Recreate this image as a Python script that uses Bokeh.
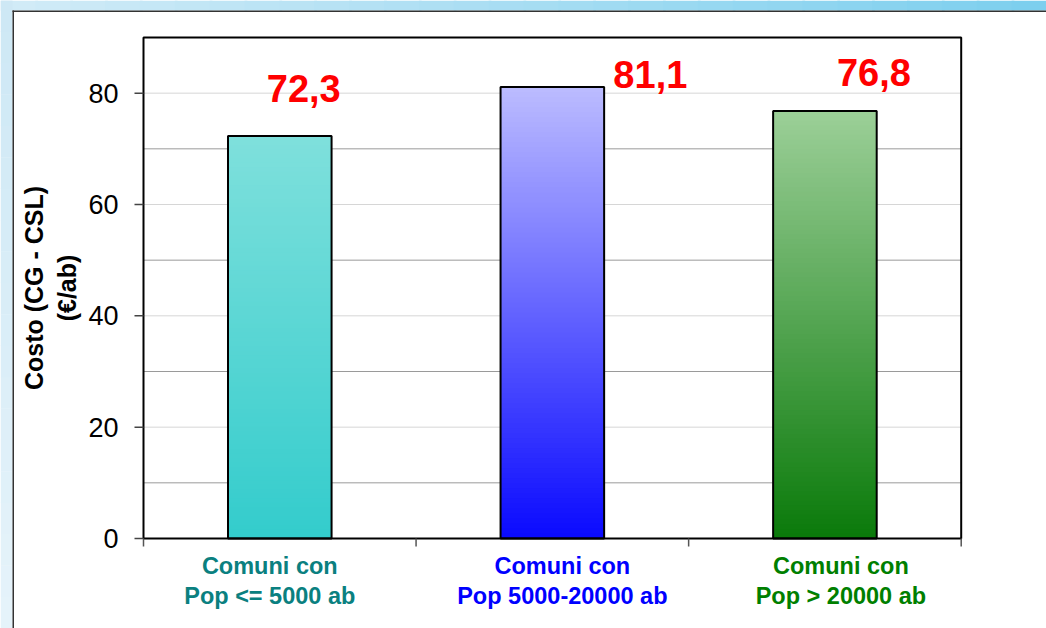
import math
from bokeh.plotting import figure
from bokeh.models import Range1d, ColumnDataSource, LabelSet, Label
from bokeh.core.properties import value
from bokeh.embed import file_html
from bokeh.resources import INLINE

# ---------------- data ----------------
categories = ["Comuni con\nPop <= 5000 ab",
              "Comuni con\nPop 5000-20000 ab",
              "Comuni con\nPop > 20000 ab"]
values = [72.3, 81.1, 76.8]
value_labels = ["72,3", "81,1", "76,8"]
y_ticks = [0, 20, 40, 60, 80]
y_tick_labels = ["0", "20", "40", "60", "80"]
y_grid_dark = [10, 30, 50, 70]
y_grid_light = [20, 40, 60, 80]
y_max = 90
y_label = "Costo (CG - CSL)\n(€/ab)"

# ---------------- layout / styles ----------------
FONT = "Liberation Sans"
W, H = 1046, 628
PLOT_L, PLOT_R, PLOT_T, PLOT_B = 143, 960.7, 37, 538
STRIP_TOP, STRIP_LEFT = 10, 12
cat_colors = ["#0a8080", "#0000ff", "#007f00"]
bar_top_colors = ["#7fe0dc", "#bcbcff", "#9ccf98"]
bar_bottom_colors = ["#33cccc", "#0a0aff", "#0a7a0a"]
value_dx = [24, 98, 49]
value_dy = [48, 13, 38]
cat_dx = [-10, 10, 16]
BAR_W = 0.38

ncat = len(categories)
xpos = [i + 0.5 for i in range(ncat)]          # category slot centres
bounds = list(range(ncat + 1))                  # category slot boundaries
cat_line1 = [c.split("\n")[0] for c in categories]
cat_line2 = [c.split("\n")[1] for c in categories]
ylab1, ylab2 = y_label.split("\n")

ppx = (PLOT_R - PLOT_L) / ncat
ppy = (PLOT_B - PLOT_T) / y_max
x0r, x1r = -PLOT_L / ppx, ncat + (W - PLOT_R) / ppx
y0r, y1r = -(H - PLOT_B) / ppy, y_max + PLOT_T / ppy


def hex2rgb(h):
    h = h.lstrip("#")
    return tuple(int(h[i:i + 2], 16) for i in (0, 2, 4))


def mix(c1, c2, t):
    a, b = hex2rgb(c1), hex2rgb(c2)
    return "#%02x%02x%02x" % tuple(int(round(a[i] + (b[i] - a[i]) * t)) for i in range(3))


p = figure(width=W, height=H,
           x_range=Range1d(x0r, x1r), y_range=Range1d(y0r, y1r),
           x_axis_location=None, y_axis_location=None,
           output_backend="svg", toolbar_location=None, min_border=0)
p.grid.visible = False
p.outline_line_color = None
p.border_fill_color = "white"
p.background_fill_color = "white"

# ---- outer decorative background (slide frame) ----
steps = 30
sx = [(x0r + (x1r - x0r) * i / steps) for i in range(steps + 1)]
p.quad(left=sx[:-1], right=[s + 0.01 for s in sx[1:]],
       bottom=y1r - STRIP_TOP / ppy, top=y1r,
       fill_color=[mix("#d2ebf7", "#7ccfee", (i + 0.5) / steps) for i in range(steps)],
       line_color=None)
vsteps = 20
sy = [(y0r + (y1r - y0r) * i / vsteps) for i in range(vsteps + 1)]
p.quad(left=x0r, right=x0r + STRIP_LEFT / ppx, bottom=sy[:-1],
       top=[s + 0.05 for s in sy[1:]],
       fill_color=[mix("#e6f3fa", "#cde8f5", (i + 0.5) / vsteps) for i in range(vsteps)],
       line_color=None)
p.segment(x0=x0r + (STRIP_LEFT + 0.75) / ppx, x1=x0r + (STRIP_LEFT + 0.75) / ppx,
          y0=y0r, y1=y1r - STRIP_TOP / ppy,
          line_color="#333333", line_width=1.5)
p.segment(x0=x0r + STRIP_LEFT / ppx, x1=x1r,
          y0=y1r - (STRIP_TOP + 0.75) / ppy, y1=y1r - (STRIP_TOP + 0.75) / ppy,
          line_color="#333333", line_width=1.5)

# ---- grid lines ----
p.segment(x0=0, x1=ncat, y0=y_grid_dark, y1=y_grid_dark,
          line_color="#9a9a9a", line_width=1)
p.segment(x0=0, x1=ncat, y0=y_grid_light, y1=y_grid_light,
          line_color="#d6d6d6", line_width=1)

# ---- gradient bars: nested slices from full height down ----
N = 90
xs, tops, cols = [], [], []
for x, v, ct, cb in zip(xpos, values, bar_top_colors, bar_bottom_colors):
    for k in range(N, 0, -1):
        t = (k - 0.5) / N
        xs.append(x)
        tops.append(v * k / N)
        cols.append(mix(cb, ct, t))
p.vbar(x=xs, top=tops, bottom=0, width=BAR_W, fill_color=cols, line_color=None)
p.vbar(x=xpos, top=values, bottom=0, width=BAR_W, fill_color=None,
       line_color="black", line_width=2)

# ---- plot box, ticks ----
p.quad(left=0, right=ncat, bottom=0, top=y_max, fill_color=None,
       line_color="black", line_width=2)
p.segment(x0=-9 / ppx, x1=0, y0=y_ticks, y1=y_ticks,
          line_color="#444444", line_width=1.5)
p.segment(x0=bounds, x1=bounds, y0=0, y1=-8 / ppy,
          line_color="#555555", line_width=1.5)

# ---- y tick labels ----
tsrc = ColumnDataSource(dict(x=[0] * len(y_ticks), y=y_ticks, text=y_tick_labels))
p.add_layout(LabelSet(x="x", y="y", text="text", source=tsrc, x_offset=-25,
                      text_align="right", text_baseline="middle",
                      text_font=value(FONT), text_font_size="27px",
                      text_color="black"))

# ---- y axis title (two centred lines) ----
for txt, off in ((ylab1, -110), (ylab2, -77)):
    p.add_layout(Label(x=0, y=y_max / 2, text=txt, x_offset=off,
                       angle=math.pi / 2, text_align="center", text_baseline="middle",
                       text_font=FONT, text_font_size="25px", text_font_style="bold",
                       text_color="black"))

# ---- value labels ----
vsrc = ColumnDataSource(dict(x=xpos, y=values, text=value_labels,
                             dx=value_dx, dy=value_dy))
p.add_layout(LabelSet(x="x", y="y", text="text", source=vsrc,
                      x_offset="dx", y_offset="dy",
                      text_align="center", text_baseline="middle",
                      text_font=value(FONT), text_font_size="38px",
                      text_font_style="bold", text_color="#ff0000"))

# ---- category labels (two centred lines) ----
for lines, off in ((cat_line1, -27), (cat_line2, -57)):
    csrc = ColumnDataSource(dict(x=xpos, y=[0] * ncat,
                                 text=lines, dx=cat_dx, col=cat_colors))
    p.add_layout(LabelSet(x="x", y="y", text="text", source=csrc,
                          x_offset="dx", y_offset=off,
                          text_align="center", text_baseline="middle",
                          text_font=value(FONT), text_font_size="23.5px",
                          text_font_style="bold", text_color="col"))

open("out.html", "w").write(file_html(p, INLINE))
